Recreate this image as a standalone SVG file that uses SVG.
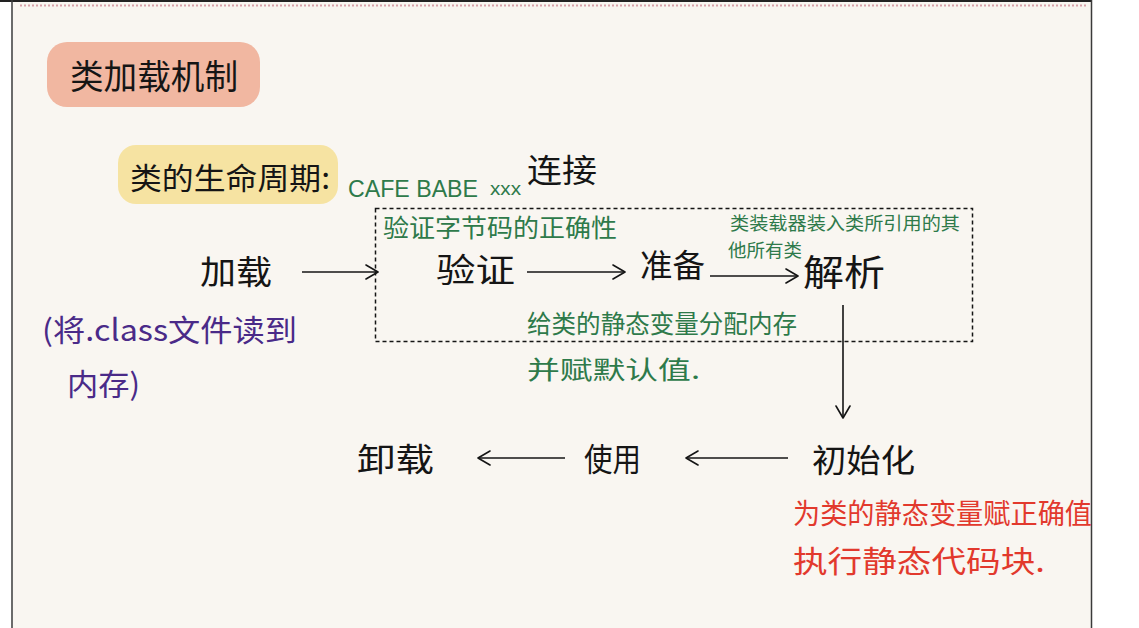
<svg xmlns="http://www.w3.org/2000/svg" width="1139" height="628" viewBox="0 0 1139 628">
  <defs>
    <style>
      .t { font-family: "Noto Sans CJK SC", "Noto Sans", sans-serif; }
      .blk { fill: #151515; }
      .grn { fill: #2e7a4a; }
      .pur { fill: #4a2a88; }
      .red { fill: #e2392d; }
      .lat { font-family: "Liberation Sans", Arial, sans-serif; }
      .arr { stroke: #151515; stroke-width: 1.6; fill: none; marker-end: url(#head); }
    </style>
    <marker id="head" markerUnits="userSpaceOnUse" markerWidth="16" markerHeight="18" refX="13" refY="8" orient="auto">
      <path d="M1,1 L13,8 L1,15" fill="none" stroke="#151515" stroke-width="1.6" stroke-linecap="round" stroke-linejoin="round"/>
    </marker>
    <clipPath id="page"><rect x="13" y="0" width="1078" height="628"/></clipPath>
  </defs>

  <!-- page -->
  <rect x="0" y="0" width="1139" height="628" fill="#ffffff"/>
  <rect x="13" y="0" width="1078" height="628" fill="#f9f6f1"/>
  <rect x="0" y="0" width="1092" height="2" fill="#222"/>
  <line x1="12" y1="0" x2="12" y2="628" stroke="#3a3a3a" stroke-width="1.5"/>
  <line x1="1091.5" y1="0" x2="1091.5" y2="628" stroke="#3a3a3a" stroke-width="1.5"/>
  <line x1="20" y1="5.5" x2="1086" y2="5.5" stroke="#d8a2a9" stroke-width="2" stroke-dasharray="2 2"/>

  <g id="title">
    <rect x="47" y="42" width="213" height="65" rx="20" fill="#f1b7a1"/>
    <text class="t blk" x="70" y="89" font-size="34" textLength="168" lengthAdjust="spacingAndGlyphs">类加载机制</text>
  </g>

  <g id="lifecycle">
    <rect x="118" y="145" width="220" height="59" rx="18" fill="#f6e3a2"/>
    <text class="t blk" x="130" y="189" font-size="30" textLength="200" lengthAdjust="spacingAndGlyphs">类的生命周期:</text>
  </g>

  <g id="cafebabe">
    <text class="lat grn" x="348" y="197" font-size="23" textLength="130" lengthAdjust="spacingAndGlyphs">CAFE BABE</text>
    <text class="lat grn" x="490" y="195" font-size="19" textLength="31" lengthAdjust="spacingAndGlyphs">xxx</text>
  </g>

  <g id="linking">
    <rect x="375.5" y="208.5" width="597" height="133" fill="none" stroke="#151515" stroke-width="1.5" stroke-dasharray="4 3"/>
    <text class="t blk" x="527" y="182" font-size="32" textLength="70" lengthAdjust="spacingAndGlyphs">连接</text>
  </g>

  <g id="verify-note">
    <text class="t grn" x="383" y="237" font-size="25" textLength="234" lengthAdjust="spacingAndGlyphs">验证字节码的正确性</text>
  </g>

  <g id="resolve-note">
    <text class="t grn" x="730" y="230" font-size="18" textLength="230" lengthAdjust="spacingAndGlyphs">类装载器装入类所引用的其</text>
    <text class="t grn" x="728" y="257" font-size="18" textLength="74" lengthAdjust="spacingAndGlyphs">他所有类</text>
  </g>

  <g id="load">
    <text class="t blk" x="200" y="284" font-size="33" textLength="72" lengthAdjust="spacingAndGlyphs">加载</text>
  </g>
  <g id="load-note">
    <text class="t pur" x="42" y="341" font-size="30" textLength="255" lengthAdjust="spacingAndGlyphs">(将.class文件读到</text>
    <text class="t pur" x="67" y="395" font-size="30" textLength="73" lengthAdjust="spacingAndGlyphs">内存)</text>
  </g>

  <g id="verify">
    <text class="t blk" x="436" y="282" font-size="33" textLength="79" lengthAdjust="spacingAndGlyphs">验证</text>
  </g>

  <g id="prepare">
    <text class="t blk" x="640" y="277" font-size="32" textLength="65" lengthAdjust="spacingAndGlyphs">准备</text>
  </g>
  <g id="prepare-note">
    <text class="t grn" x="527" y="333" font-size="25" textLength="270" lengthAdjust="spacingAndGlyphs">给类的静态变量分配内存</text>
    <text class="t grn" x="527" y="379" font-size="25" textLength="173" lengthAdjust="spacingAndGlyphs">并赋默认值.</text>
  </g>

  <g id="resolve">
    <text class="t blk" x="803" y="286" font-size="36" textLength="82" lengthAdjust="spacingAndGlyphs">解析</text>
  </g>

  <g id="init">
    <text class="t blk" x="812" y="472" font-size="32" textLength="103" lengthAdjust="spacingAndGlyphs">初始化</text>
  </g>
  <g id="init-note" clip-path="url(#page)">
    <text class="t red" x="793" y="524" font-size="28" textLength="299" lengthAdjust="spacingAndGlyphs">为类的静态变量赋正确值</text>
    <text class="t red" x="793" y="572" font-size="30" textLength="252" lengthAdjust="spacingAndGlyphs">执行静态代码块.</text>
  </g>

  <g id="use">
    <text class="t blk" x="584" y="471" font-size="32" textLength="57" lengthAdjust="spacingAndGlyphs">使用</text>
  </g>

  <g id="unload">
    <text class="t blk" x="357" y="471" font-size="32" textLength="77" lengthAdjust="spacingAndGlyphs">卸载</text>
  </g>

  <g id="connectors">
    <line class="arr" x1="302" y1="272" x2="378" y2="272"/>
    <line class="arr" x1="527" y1="272" x2="625" y2="272"/>
    <line class="arr" x1="710" y1="276" x2="798" y2="276"/>
    <line class="arr" x1="843" y1="305" x2="843" y2="418"/>
    <line class="arr" x1="788" y1="458" x2="686" y2="458"/>
    <line class="arr" x1="565" y1="458" x2="478" y2="458"/>
  </g>
</svg>
